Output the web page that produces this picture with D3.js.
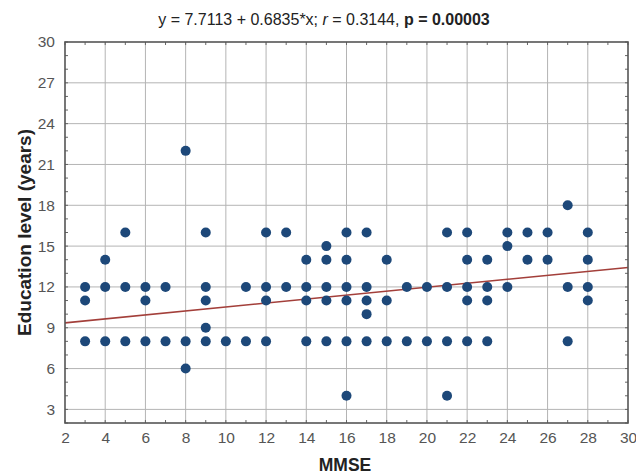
<!DOCTYPE html>
<html>
<head>
<meta charset="utf-8">
<script src="https://cdn.jsdelivr.net/npm/d3@7"></script>
<style>
  body { margin: 0; background: #fff; }
  text { font-family: "Liberation Sans", Arial, sans-serif; }
</style>
</head>
<body>
<div id="chart"></div>
<script>
// MMSE score (x) and the education levels (years) seen at that score
const mmse = [3, 4, 5, 6, 7, 8, 9, 10, 11, 12, 13, 14, 15, 16, 17, 18, 19, 20, 21, 22, 23, 24, 25, 26, 27, 28];
const eduLevels = [
  [12, 11, 8],
  [14, 12, 8],
  [16, 12, 8],
  [12, 11, 8],
  [12, 8],
  [22, 8, 6],
  [16, 12, 11, 9, 8],
  [8],
  [12, 8],
  [16, 12, 11, 8],
  [16, 12],
  [14, 12, 11, 8],
  [15, 14, 12, 11, 8],
  [16, 14, 12, 11, 8, 4],
  [16, 12, 11, 10, 8],
  [14, 11, 8],
  [12, 8],
  [12, 8],
  [16, 12, 8, 4],
  [16, 14, 12, 11, 8],
  [14, 12, 11, 8],
  [16, 15, 12],
  [16, 14],
  [16, 14],
  [18, 12, 8],
  [16, 14, 12, 11]
];
const xTicks = [2, 4, 6, 8, 10, 12, 14, 16, 18, 20, 22, 24, 26, 28, 30];
const yTicks = [3, 6, 9, 12, 15, 18, 21, 24, 27, 30];
// fitted line as drawn in the plot
const fitIntercept = 9.07;
const fitSlope = 0.1454;

const points = [];
mmse.forEach((m, i) => eduLevels[i].forEach(e => points.push({ x: m, y: e })));

const width = 636, height = 475;
const margin = { left: 65, right: 8, top: 42, bottom: 52 };

const svg = d3.select("#chart").append("svg")
  .attr("width", width)
  .attr("height", height);

const x = d3.scaleLinear().domain([2, 30]).range([margin.left, width - margin.right]);
const y = d3.scaleLinear().domain([2, 30]).range([height - margin.bottom, margin.top]);

// grid
svg.append("g")
  .selectAll("line")
  .data(xTicks.slice(1, -1))
  .enter().append("line")
  .attr("x1", d => x(d)).attr("x2", d => x(d))
  .attr("y1", y(30)).attr("y2", y(2))
  .attr("stroke", "#b4b4b4").attr("stroke-width", 1);

svg.append("g")
  .selectAll("line")
  .data(yTicks.slice(0, -1))
  .enter().append("line")
  .attr("x1", x(2)).attr("x2", x(30))
  .attr("y1", d => y(d)).attr("y2", d => y(d))
  .attr("stroke", "#b4b4b4").attr("stroke-width", 1);

// minor ticks inside frame
const minorX = d3.range(2, 31, 1);
const minorY = d3.range(2, 31, 1);
const ticks = svg.append("g").attr("stroke", "#666").attr("stroke-width", 1);
ticks.selectAll(".tb").data(minorX).enter().append("line")
  .attr("x1", d => x(d)).attr("x2", d => x(d))
  .attr("y1", y(2)).attr("y2", y(2) - 3);
ticks.selectAll(".tt").data(minorX).enter().append("line")
  .attr("x1", d => x(d)).attr("x2", d => x(d))
  .attr("y1", y(30)).attr("y2", y(30) + 3);
ticks.selectAll(".tl").data(minorY).enter().append("line")
  .attr("x1", x(2)).attr("x2", x(2) + 3)
  .attr("y1", d => y(d)).attr("y2", d => y(d));
ticks.selectAll(".tr").data(minorY).enter().append("line")
  .attr("x1", x(30)).attr("x2", x(30) - 3)
  .attr("y1", d => y(d)).attr("y2", d => y(d));

// fit line
svg.append("line")
  .attr("x1", x(2)).attr("y1", y(fitIntercept + fitSlope * 2))
  .attr("x2", x(30)).attr("y2", y(fitIntercept + fitSlope * 30))
  .attr("stroke", "#a33f3a").attr("stroke-width", 1.6);

// points
svg.append("g")
  .selectAll("circle")
  .data(points)
  .enter().append("circle")
  .attr("cx", d => x(d.x))
  .attr("cy", d => y(d.y))
  .attr("r", 5)
  .attr("fill", "#1d4879");

// frame
svg.append("rect")
  .attr("x", x(2)).attr("y", y(30))
  .attr("width", x(30) - x(2)).attr("height", y(2) - y(30))
  .attr("fill", "none").attr("stroke", "#555").attr("stroke-width", 1.6);

// axis labels
const xAxis = d3.axisBottom(x).tickValues(xTicks).tickSize(0).tickPadding(9);
svg.append("g")
  .attr("transform", `translate(0,${y(2)})`)
  .call(xAxis)
  .call(g => g.select(".domain").remove())
  .selectAll("text")
  .attr("font-size", 15.5).attr("fill", "#555")
  .style("font-family", "'Liberation Sans', Arial, sans-serif");

const yAxis = d3.axisLeft(y).tickValues(yTicks).tickSize(0).tickPadding(10);
svg.append("g")
  .attr("transform", `translate(${x(2)},0)`)
  .call(yAxis)
  .call(g => g.select(".domain").remove())
  .selectAll("text")
  .attr("font-size", 15.5).attr("fill", "#555")
  .style("font-family", "'Liberation Sans', Arial, sans-serif");

// titles
const title = svg.append("text")
  .attr("x", 324).attr("y", 25)
  .attr("text-anchor", "middle")
  .attr("font-size", 16).attr("fill", "#222");
title.append("tspan").text("y = 7.7113 + 0.6835*x; ");
title.append("tspan").attr("font-style", "italic").text("r");
title.append("tspan").text(" = 0.3144, ");
title.append("tspan").attr("font-weight", "bold").text("p = 0.00003");

svg.append("text")
  .attr("x", 345).attr("y", 471)
  .attr("text-anchor", "middle")
  .attr("font-size", 17.5).attr("font-weight", "bold").attr("fill", "#222")
  .text("MMSE");

svg.append("text")
  .attr("transform", `translate(31,${(y(2) + y(30)) / 2}) rotate(-90)`)
  .attr("text-anchor", "middle")
  .attr("font-size", 19).attr("font-weight", "bold").attr("fill", "#222")
  .text("Education level (years)");
</script>
</body>
</html>
